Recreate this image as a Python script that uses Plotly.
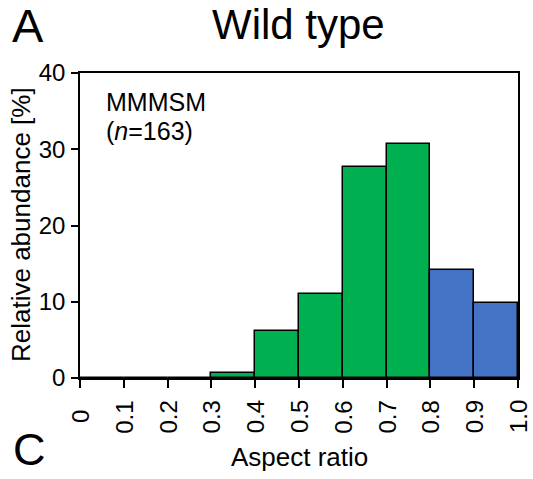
import plotly.graph_objects as go

# Aspect-ratio histogram, wild type (MMMSM, n=163)
bin_left = [0.0, 0.1, 0.2, 0.3, 0.4, 0.5, 0.6, 0.7, 0.8, 0.9]
counts = [0, 0, 0, 1, 10, 18, 45, 50, 23, 16]
n_total = 163
bin_colors = ["#00B050"] * 8 + ["#4472C4"] * 2

tick_vals = [0, 0.1, 0.2, 0.3, 0.4, 0.5, 0.6, 0.7, 0.8, 0.9, 1.0]
tick_text = ["0", "0.1", "0.2", "0.3", "0.4", "0.5", "0.6", "0.7", "0.8", "0.9", "1.0"]
y_ticks = [0, 10, 20, 30, 40]

percent = [100.0 * c / n_total for c in counts]
centers = [b + 0.05 for b in bin_left]

FONT = "Liberation Sans, Arial, sans-serif"
W, H = 533, 479
L, R, T, B = 80, 15, 73, 101

fig = go.Figure(
    go.Bar(
        x=centers,
        y=percent,
        width=0.1,
        marker=dict(color=bin_colors, line=dict(color="black", width=1.5)),
        hoverinfo="skip",
    )
)

fig.update_layout(
    width=W,
    height=H,
    margin=dict(l=L, r=R, t=T, b=B, autoexpand=False),
    paper_bgcolor="white",
    plot_bgcolor="white",
    showlegend=False,
    font=dict(family=FONT, color="black"),
    bargap=0,
)

fig.update_xaxes(
    range=[0, 1],
    tickvals=tick_vals,
    showticklabels=False,
    ticks="outside",
    ticklen=8,
    tickwidth=1.5,
    tickcolor="black",
    showline=True,
    linecolor="black",
    linewidth=1.5,
    mirror=True,
    showgrid=False,
    zeroline=False,
    automargin=False,
)

fig.update_yaxes(
    range=[0, 40],
    tickvals=y_ticks,
    ticks="outside",
    ticklen=7,
    tickwidth=1.5,
    tickcolor="black",
    tickfont=dict(size=24, family=FONT),
    ticklabelstandoff=1,
    showline=True,
    linecolor="black",
    linewidth=1.5,
    mirror=True,
    showgrid=False,
    zeroline=False,
    automargin=False,
)


def px_x(x):
    return (x - L) / (W - L - R)


def px_y(y):
    return 1 - (y - T) / (H - T - B)


annotations = [
    dict(text="Wild type", x=px_x(298), y=px_y(24), size=42),
    dict(text="A", x=px_x(28), y=px_y(26), size=47),
    dict(text="C", x=px_x(29), y=px_y(449), size=45),
    dict(text="MMMSM", x=px_x(104), y=px_y(102), size=25, xanchor="left"),
    dict(text="(<i>n</i>=%d)" % n_total, x=px_x(104), y=px_y(131), size=25, xanchor="left"),
    dict(text="Aspect ratio", x=px_x(299), y=px_y(457), size=26),
    dict(text="Relative abundance [%]", x=px_x(21), y=px_y(225), size=26, textangle=-90),
]
ann_list = []
for a in annotations:
    ann_list.append(
        dict(
            text=a["text"],
            x=a["x"],
            y=a["y"],
            xref="paper",
            yref="paper",
            xanchor=a.get("xanchor", "center"),
            yanchor="middle",
            textangle=a.get("textangle", 0),
            showarrow=False,
            font=dict(size=a["size"], family=FONT, color="black"),
        )
    )

# rotated x tick labels, placed on the data axis and centred below each tick
for v, t in zip(tick_vals, tick_text):
    ann_list.append(
        dict(
            text=t,
            x=v,
            xref="x",
            y=px_y(417),
            yref="paper",
            xanchor="center",
            yanchor="middle",
            textangle=-90,
            showarrow=False,
            font=dict(size=24, family=FONT, color="black"),
        )
    )

fig.update_layout(annotations=ann_list)

fig.write_html("out.html")
